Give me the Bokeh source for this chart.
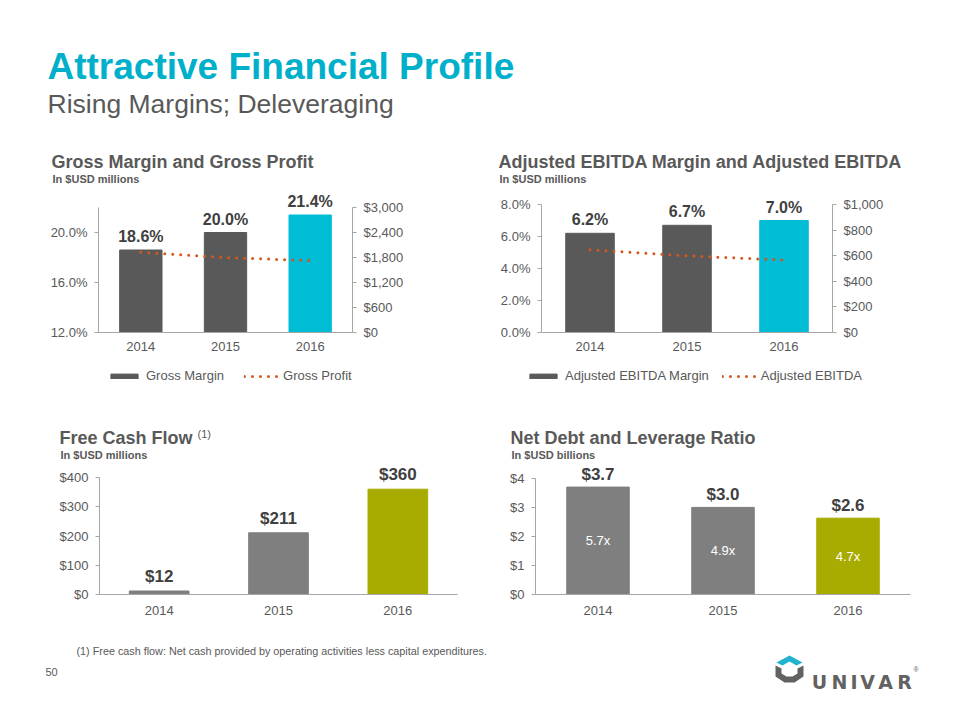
from bokeh.plotting import figure
from bokeh.models import (ColumnDataSource, LabelSet, Label, Legend, LegendItem,
                          LinearAxis, Range1d, FixedTicker, PrintfTickFormatter,
                          NumeralTickFormatter, FactorRange)
from bokeh.core.properties import value
from bokeh.layouts import column, row
from bokeh.embed import file_html
from bokeh.resources import INLINE

# ---------------- data ----------------
years = ["2014", "2015", "2016"]
gross_margin = [18.6, 20.0, 21.4]          # %
gross_profit = [1927, 1796, 1728]          # $M
ebitda_margin = [6.2, 6.7, 7.0]            # %
adj_ebitda = [646, 599, 566]               # $M
free_cash_flow = [12, 211, 360]            # $M
net_debt = [3.7, 3.0, 2.63]                # $B
leverage = [5.7, 4.9, 4.7]                 # x

gm_ticks = [12, 16, 20]
gm_axis = [12, 22]
gp_ticks = [0, 600, 1200, 1800, 2400, 3000]
em_ticks = [0, 2, 4, 6, 8]
ebitda_ticks = [0, 200, 400, 600, 800, 1000]
fcf_ticks = [0, 100, 200, 300, 400]
debt_ticks = [0, 1, 2, 3, 4]

# ---------------- style ----------------
FONT = "Liberation Sans"
TEAL_TITLE = "#00B0CA"
TEAL = "#00BCD4"
GRAY_DARK = "#595959"
GRAY_MID = "#7F7F7F"
OLIVE = "#A8AC00"
ORANGE = "#D4581E"
TEXT = "#595959"
LABEL = "#404040"
AXIS = "#A6A6A6"
LOGO_GRAY = "#626262"
BASE_FIX = 0.28   # empirical correction of the label baseline (fraction of font size)


def txt(fig, x, y, text, size, bold=False, color=TEXT, font=FONT):
    fig.add_layout(Label(x=x, y=y + BASE_FIX * size, x_units="screen", y_units="screen",
                         text=text, text_font=font, text_font_size=f"{size}px",
                         text_font_style="bold" if bold else "normal",
                         text_color=color, text_baseline="alphabetic"))


def strip(w, h):
    s = figure(width=w, height=h, x_range=Range1d(0, w), y_range=Range1d(0, h),
               output_backend="svg", toolbar_location=None, title_location=None,
               x_axis_location=None, y_axis_location=None,
               min_border_left=0, min_border_right=0, min_border_top=0, min_border_bottom=0)
    s.grid.visible = False
    s.outline_line_color = None
    return s


def style_y(ax, bounds):
    ax.bounds = bounds
    ax.axis_line_color = AXIS
    ax.major_tick_line_color = AXIS
    ax.major_tick_out = 4
    ax.major_tick_in = 0
    ax.minor_tick_line_color = None
    ax.major_label_text_font = FONT
    ax.major_label_text_font_size = "13px"
    ax.major_label_text_color = TEXT
    ax.major_label_standoff = 7


def style_x(xa, standoff):
    xa.axis_line_color = AXIS
    xa.major_tick_line_color = None
    xa.major_tick_out = 0
    xa.major_tick_in = 0
    xa.minor_tick_line_color = None
    xa.major_label_text_font = FONT
    xa.major_label_text_font_size = "13px"
    xa.major_label_text_color = TEXT
    xa.major_label_standoff = standoff


def stretched(lo, hi, axis_px, above_px, below_px):
    """Range whose [lo, hi] part covers axis_px pixels, padded by the given pixels."""
    upp = (hi - lo) / axis_px
    return Range1d(lo - below_px * upp, lo + above_px * upp)


def top_chart(w, h, l, r, lo, hi, axis_px, axis_bottom_px, side_pad_px=0, cats_px=None):
    """Frame fills the canvas height; the x axis sits at y=lo inside it (room for legend).
    With side_pad_px the frame also reaches past both value axes (room for a wide legend)."""
    if side_pad_px:
        pad = side_pad_px * len(years) / cats_px      # applied on each side
        xr = FactorRange(*years, range_padding=pad, range_padding_units="absolute")
    else:
        xr = FactorRange(*years)
    p = figure(width=w, height=h, x_range=xr,
               y_range=stretched(lo, hi, axis_px, axis_bottom_px, h - axis_bottom_px),
               output_backend="svg", toolbar_location=None, title_location=None,
               min_border_left=l, min_border_right=r, min_border_top=0, min_border_bottom=0)
    p.outline_line_color = None
    p.grid.visible = False
    style_x(p.xaxis[0], 9)
    p.xaxis[0].fixed_location = lo
    style_y(p.yaxis[0], (lo, hi))
    if side_pad_px:
        p.xaxis[0].bounds = (0, len(years))
        p.yaxis[0].fixed_location = 0
    return p


def bottom_chart(w, h, l, r, b, lo, hi, axis_px, x_standoff):
    p = figure(width=w, height=h, x_range=years,
               y_range=stretched(lo, hi, axis_px, h - b, 0),
               output_backend="svg", toolbar_location=None, title_location=None,
               min_border_left=l, min_border_right=r, min_border_top=0, min_border_bottom=b)
    p.outline_line_color = None
    p.grid.visible = False
    style_x(p.xaxis[0], x_standoff)
    style_y(p.yaxis[0], (lo, hi))
    return p


def add_right_axis(p, name, ticks, h, axis_px, axis_bottom_px, fmt, fixed=None):
    p.extra_y_ranges = {name: stretched(ticks[0], ticks[-1], axis_px, axis_bottom_px,
                                        h - axis_bottom_px)}
    ax = LinearAxis(y_range_name=name, ticker=FixedTicker(ticks=ticks),
                    formatter=NumeralTickFormatter(format=fmt))
    style_y(ax, (ticks[0], ticks[-1]))
    if fixed is not None:
        ax.fixed_location = fixed
    p.add_layout(ax, "right")


def value_labels(p, xs, ys, texts, size="16px", offset=8):
    src = ColumnDataSource(dict(x=xs, y=ys, t=texts))
    p.add_layout(LabelSet(x="x", y="y", text="t", source=src, y_offset=offset,
                          text_align="center", text_baseline="alphabetic",
                          text_font=value(FONT), text_font_size=value(size),
                          text_font_style="bold", text_color=LABEL))


def add_legend(p, items, x, y, spacing):
    lg = Legend(items=items, location=(x, y), orientation="horizontal",
                glyph_width=34, glyph_height=6, label_height=14, label_standoff=5,
                spacing=spacing, padding=0, margin=0, border_line_color=None,
                background_fill_alpha=0, label_text_font=FONT,
                label_text_font_size="13px", label_text_color=TEXT)
    p.add_layout(lg)


# ---------------- header (main title + titles of the top charts) ----------------
header = strip(960, 188)
txt(header, 47, 112, "Attractive Financial Profile", 37, True, TEAL_TITLE)
txt(header, 47, 77, "Rising Margins; Deleveraging", 26.5)
txt(header, 51, 21, "Gross Margin and Gross Profit", 18, True)
txt(header, 52, 6, "In $USD millions", 11, True)
txt(header, 498, 21, "Adjusted EBITDA Margin and Adjusted EBITDA", 18, True)
txt(header, 499, 6, "In $USD millions", 11, True)

TOP_H = 212          # canvas height of the top charts
TOP_AXIS_AT = 144    # pixels from canvas top to the x axis

# ---------------- chart 1: gross margin ----------------
p1 = top_chart(470, TOP_H, 98, 118, gm_axis[0], gm_axis[1], 125, TOP_AXIS_AT)
p1.yaxis[0].ticker = FixedTicker(ticks=gm_ticks)
p1.yaxis[0].formatter = PrintfTickFormatter(format="%.1f%%")
add_right_axis(p1, "gp", gp_ticks, TOP_H, 125, TOP_AXIS_AT, "$0,0")
src1 = ColumnDataSource(dict(x=years, top=gross_margin, c=[GRAY_DARK, GRAY_DARK, TEAL]))
b1 = p1.vbar(x="x", top="top", bottom=gm_axis[0], width=0.5, color="c", source=src1)
l1 = p1.line(x=years, y=gross_profit, y_range_name="gp", line_color=ORANGE,
             line_width=3, line_dash="0 8", line_cap="round")
value_labels(p1, years, gross_margin, [f"{v:.1f}%" for v in gross_margin])
add_legend(p1, [LegendItem(label="Gross Margin", renderers=[b1], index=0),
                LegendItem(label="Gross Profit", renderers=[l1])], 9, 17, 20)

# ---------------- chart 2: adjusted EBITDA ----------------
# value axes at x = 541 and 832 px (291 px for the categories); frame 481..892
P2_PAD = 60
p2 = top_chart(490, TOP_H, 11, 68, em_ticks[0], em_ticks[-1], 128, TOP_AXIS_AT,
               side_pad_px=P2_PAD, cats_px=291)
p2.yaxis[0].ticker = FixedTicker(ticks=em_ticks)
p2.yaxis[0].formatter = PrintfTickFormatter(format="%.1f%%")
add_right_axis(p2, "eb", ebitda_ticks, TOP_H, 128, TOP_AXIS_AT, "$0,0", fixed=len(years))
src2 = ColumnDataSource(dict(x=years, top=ebitda_margin, c=[GRAY_DARK, GRAY_DARK, TEAL]))
b2 = p2.vbar(x="x", top="top", bottom=0, width=0.5, color="c", source=src2)
l2 = p2.line(x=years, y=adj_ebitda, y_range_name="eb", line_color=ORANGE,
             line_width=3, line_dash="0 8", line_cap="round")
value_labels(p2, years, ebitda_margin, [f"{v:.1f}%" for v in ebitda_margin])
add_legend(p2, [LegendItem(label="Adjusted EBITDA Margin", renderers=[b2], index=0),
                LegendItem(label="Adjusted EBITDA", renderers=[l2])], 526 - 481, 17, 13)

# ---------------- strip with titles of the bottom charts ----------------
mid = strip(960, 61)
txt(mid, 59, 18, "Free Cash Flow", 18, True)
txt(mid, 197, 24, "(1)", 11)
txt(mid, 60, 3, "In $USD millions", 11, True)
txt(mid, 510, 18, "Net Debt and Leverage Ratio", 18, True)
txt(mid, 511, 3, "In $USD billions", 11, True)

# ---------------- chart 3: free cash flow ----------------
p3 = bottom_chart(470, 179, 99, 13, 46, fcf_ticks[0], fcf_ticks[-1], 117, 11)
p3.yaxis[0].ticker = FixedTicker(ticks=fcf_ticks)
p3.yaxis[0].formatter = NumeralTickFormatter(format="$0,0")
src3 = ColumnDataSource(dict(x=years, top=free_cash_flow, c=[GRAY_MID, GRAY_MID, OLIVE]))
p3.vbar(x="x", top="top", bottom=0, width=0.5, color="c", source=src3)
value_labels(p3, years, free_cash_flow, [f"${v:,.0f}" for v in free_cash_flow], size="17px", offset=9)

# ---------------- chart 4: net debt ----------------
p4 = bottom_chart(490, 179, 65, 50, 45, debt_ticks[0], debt_ticks[-1], 117, 11)
p4.yaxis[0].ticker = FixedTicker(ticks=debt_ticks)
p4.yaxis[0].formatter = NumeralTickFormatter(format="$0")
src4 = ColumnDataSource(dict(x=years, top=net_debt, c=[GRAY_MID, GRAY_MID, OLIVE]))
p4.vbar(x="x", top="top", bottom=0, width=0.5, color="c", source=src4)
value_labels(p4, years, net_debt, [f"${v:.1f}" for v in net_debt], size="17px", offset=7)
lev_src = ColumnDataSource(dict(x=years, y=[v / 2 for v in net_debt],
                                t=[f"{v:.1f}x" for v in leverage]))
p4.add_layout(LabelSet(x="x", y="y", text="t", source=lev_src, text_align="center",
                       text_baseline="middle", text_font=value(FONT),
                       text_font_size=value("13px"), text_color="white"))

# ---------------- footer ----------------
footer = strip(960, 80)
txt(footer, 76, 66,
    "(1) Free cash flow: Net cash provided by operating activities less capital expenditures.",
    10.8)
txt(footer, 45, 45, "50", 11)
# logo (decoration)
ox, oy = 775, 38
teal_shape = [(1, 20), (14, 27), (27, 20), (21, 17), (14, 21), (7, 17)]
gray_shape = [(0, 17), (0, 6), (9, 0), (19, 0), (28, 6), (28, 17), (22, 14),
              (22, 9), (17, 6), (11, 6), (6, 9), (6, 14)]
footer.patch([ox + a for a, _ in teal_shape], [oy + b for _, b in teal_shape],
             color="#1FB3CF", line_color=None)
footer.patch([ox + a for a, _ in gray_shape], [oy + b for _, b in gray_shape],
             color=LOGO_GRAY, line_color=None)
logo_letters = ["U", "N", "I", "V", "A", "R"]
logo_x = [819, 839, 853.5, 867, 885, 904]
footer.text(x=logo_x, y=[39] * 6, text=logo_letters, text_align="center",
            text_baseline="alphabetic", text_font=value("DejaVu Sans"),
            text_font_size=value("19px"), text_font_style="bold", text_color=LOGO_GRAY)
txt(footer, 913, 49, "®", 7, color=LOGO_GRAY)

layout = column(header, row(p1, p2), mid, row(p3, p4), footer)
open("out.html", "w").write(file_html(layout, INLINE))
